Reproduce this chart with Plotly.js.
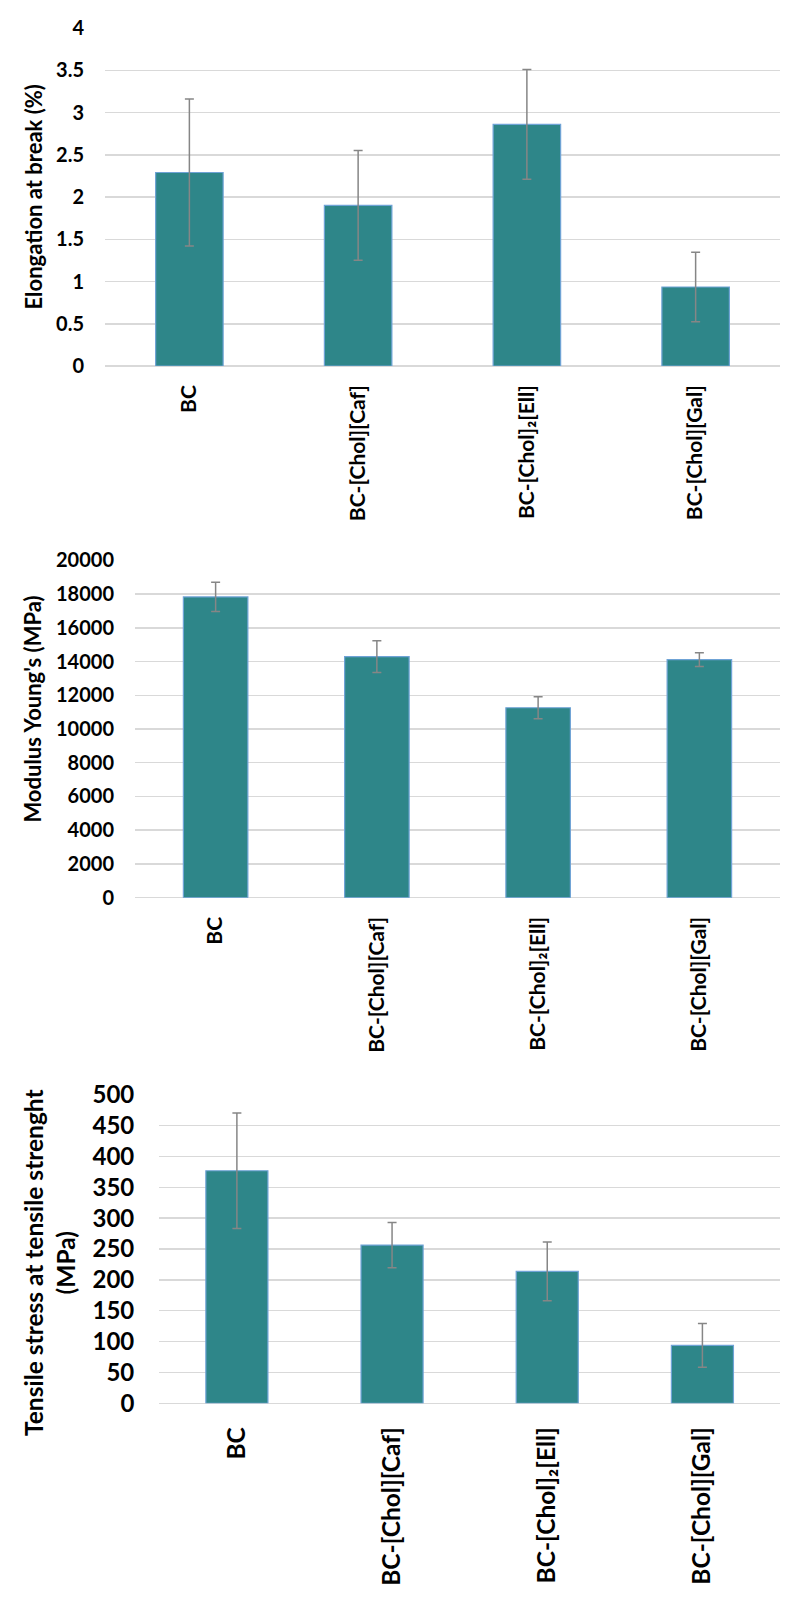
<!DOCTYPE html>
<html>
<head>
<meta charset="utf-8">
<script src="https://cdn.plot.ly/plotly-3.0.1.min.js"></script>
<style>html,body{margin:0;padding:0;background:#fff;}#chart{width:800px;height:1605px;}</style>
</head>
<body>
<div id="chart"></div>
<script>
const categories = ["BC", "BC-[Chol][Caf]", "BC-[Chol]\u2082[Ell]", "BC-[Chol][Gal]"];

const elongation = [2.29, 1.90, 2.86, 0.935];
const elongationErr = [0.87, 0.65, 0.65, 0.41];

const modulus = [17830, 14290, 11260, 14110];
const modulusErr = [870, 945, 650, 410];

const tensile = [376.8, 256.4, 213.8, 94.0];
const tensileErr = [93.5, 36.7, 47.5, 35.4];

const titles = ["Elongation at break (%)", "Modulus Young's (MPa)", "Tensile stress at tensile strenght<br>(MPa)"];

const barColor = "#2e8689";
const edgeColor = "#6fa3d6";
const errColor = "#868686";
const gridColor = "#d9d9d9";
const FONT = "Lato, 'Open Sans', sans-serif";

function barTrace(vals, errs, xa, ya) {
  return {
    type: "bar", x: categories, y: vals, xaxis: xa, yaxis: ya, width: 0.4,
    marker: {color: barColor, line: {color: edgeColor, width: 1.2}},
    error_y: {type: "data", array: errs, visible: true, color: errColor, thickness: 1.5, width: 4.5},
    hoverinfo: "skip"
  };
}

const data = [
  barTrace(elongation, elongationErr, "x", "y"),
  barTrace(modulus, modulusErr, "x2", "y2"),
  barTrace(tensile, tensileErr, "x3", "y3")
];

const H = 1605, W = 800;
const fy = px => 1 - px / H;
const fx = px => px / W;

function yax(top, bottom, range, dtick, fmt, size, standoff) {
  return {
    domain: [fy(bottom), fy(top)], range: range, dtick: dtick, tick0: 0, tickformat: fmt,
    showgrid: true, gridcolor: gridColor, gridwidth: 1.5,
    zeroline: true, zerolinecolor: gridColor, zerolinewidth: 1.5,
    showline: false, ticks: "", automargin: false, fixedrange: true,
    ticklabelstandoff: standoff,
    tickfont: {family: FONT, size: size, color: "#000", weight: 700}
  };
}
function xax(left, anchor, size, standoff) {
  return {
    domain: [fx(left), fx(780)], anchor: anchor, type: "category",
    range: [-0.5, 3.5],
    showgrid: false, zeroline: false, showline: false, ticks: "",
    tickangle: -90, automargin: false, fixedrange: true,
    ticklabelstandoff: standoff,
    tickfont: {family: FONT, size: size, color: "#000", weight: 700}
  };
}

const layout = {
  width: W, height: H,
  margin: {l: 0, r: 0, t: 0, b: 0, pad: 0},
  paper_bgcolor: "#fff", plot_bgcolor: "#fff",
  showlegend: false,
  font: {family: FONT, color: "#000"},
  xaxis: xax(105, "y", 21, 14),
  yaxis: Object.assign(yax(28, 366, [0, 4], 0.5, "", 20, 20), {anchor: "x"}),
  xaxis2: xax(135, "y2", 21, 14),
  yaxis2: Object.assign(yax(560.3, 897.7, [0, 20000], 2000, "d", 20, 20), {anchor: "x2"}),
  xaxis3: xax(159.3, "y3", 24.5, 18),
  yaxis3: Object.assign(yax(1094.7, 1403.3, [0, 500], 50, "d", 24, 24), {anchor: "x3"}),
  annotations: [
    {text: titles[0], xref: "paper", yref: "paper", x: fx(33), y: fy(197.5), textangle: -90,
     showarrow: false, xanchor: "center", yanchor: "middle", font: {family: FONT, size: 22, weight: 700, color: "#000"}},
    {text: titles[1], xref: "paper", yref: "paper", x: fx(33), y: fy(709.6), textangle: -90,
     showarrow: false, xanchor: "center", yanchor: "middle", font: {family: FONT, size: 22, weight: 700, color: "#000"}},
    {text: titles[2], xref: "paper", yref: "paper", x: fx(49), y: fy(1263), textangle: -90,
     showarrow: false, xanchor: "center", yanchor: "middle", font: {family: FONT, size: 24.5, weight: 700, color: "#000"}}
  ]
};

Plotly.newPlot("chart", data, layout, {staticPlot: true, displayModeBar: false});
</script>
</body>
</html>
